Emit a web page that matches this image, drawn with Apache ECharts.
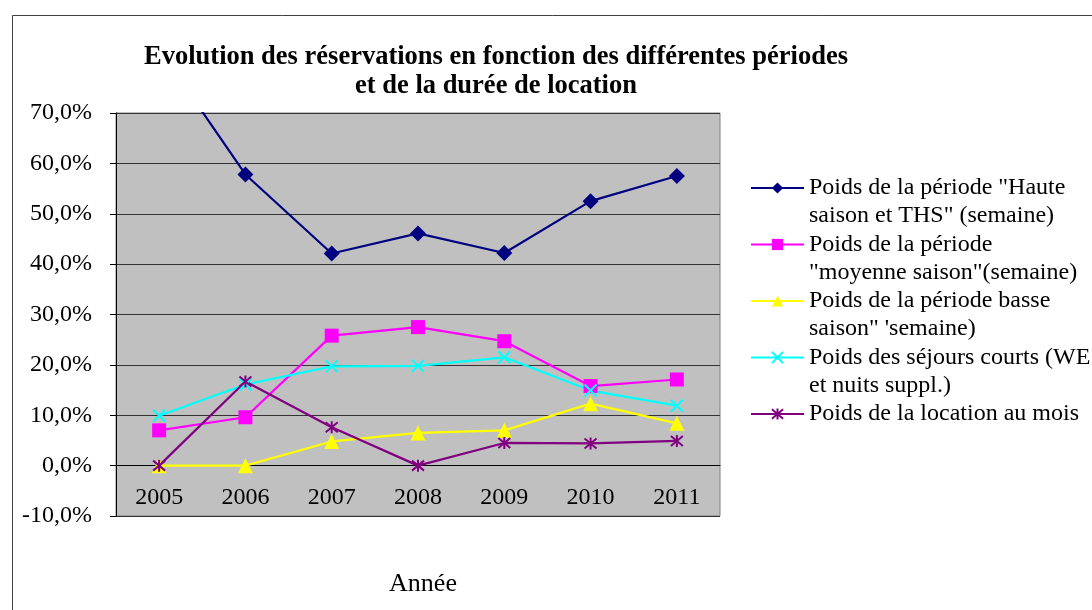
<!DOCTYPE html>
<html>
<head>
<meta charset="utf-8">
<script src="https://cdn.jsdelivr.net/npm/echarts@6/dist/echarts.min.js"></script>
<style>
  html, body { margin: 0; padding: 0; background: #fff; }
  #chart { width: 1092px; height: 610px; }
</style>
</head>
<body>
<div id="chart"></div>
<script>
// data (percent)
const years = ['2005', '2006', '2007', '2008', '2009', '2010', '2011'];
const haute = [82.7, 57.8, 42.1, 46.1, 42.2, 52.5, 57.5];
const moyenne = [7.0, 9.6, 25.8, 27.5, 24.7, 15.8, 17.1];
const basse = [0, 0, 4.8, 6.5, 7.0, 12.3, 8.4];
const courts = [9.9, 16.1, 19.7, 19.8, 21.5, 14.9, 11.9];
const mois = [0, 16.7, 7.6, 0, 4.5, 4.4, 4.9];

const names = [
  'Poids de la période "Haute\nsaison et THS" (semaine)',
  'Poids de la période\n"moyenne saison"(semaine)',
  'Poids de la période basse\nsaison" \'semaine)',
  'Poids des séjours courts (WE\net nuits suppl.)',
  'Poids de la location au mois'
];

const font = 'Liberation Serif';
const chart = echarts.init(document.getElementById('chart'));

const gridTop = 113, gridBottom = 94, yMin = -10, yMax = 70;
const plotH = 610 - gridTop - gridBottom;
// move the category axis up onto the 0 % line
const zeroOffset = -plotH * (0 - yMin) / (yMax - yMin);

function line(name, data, color, symbol, size, stroked) {
  return {
    name: name,
    type: 'line',
    data: data,
    symbol: symbol,
    symbolSize: size,
    showAllSymbol: true,
    lineStyle: { color: color, width: 2.2 },
    itemStyle: stroked
      ? { color: color, borderColor: color, borderWidth: 2 }
      : { color: color },
    emphasis: { disabled: true }
  };
}

chart.setOption({
  animation: false,
  title: {
    text: 'Evolution des réservations en fonction des différentes périodes\net de la durée de location',
    left: 491,
    top: 38,
    textAlign: 'center',
    textStyle: { fontFamily: font, fontSize: 26.5, fontWeight: 'bold', color: '#000', lineHeight: 29 }
  },
  graphic: [{
    type: 'rect',
    shape: { x: 12.5, y: 15.5, width: 1200, height: 700 },
    style: { fill: 'none', stroke: '#404040', lineWidth: 1 },
    silent: true
  }],
  legend: {
    orient: 'vertical',
    left: 745,
    top: 141,
    itemWidth: 53,
    itemHeight: 14,
    itemGap: -27.5,
    // blank first line so the icon sits beside the first text line
    formatter: n => '\n' + n + (n.indexOf('\n') < 0 ? '\n ' : ''),
    textStyle: { fontFamily: font, fontSize: 24, color: '#000', lineHeight: 28 },
    data: names
  },
  grid: {
    left: 116, top: gridTop, right: 372, bottom: gridBottom,
    outerBoundsMode: 'none',
    show: true, backgroundColor: '#c0c0c0', borderColor: '#808080', borderWidth: 1
  },
  xAxis: {
    type: 'category',
    data: years,
    position: 'bottom',
    offset: zeroOffset,
    name: 'Année',
    nameLocation: 'middle',
    nameGap: 106,
    nameTextStyle: { fontFamily: font, fontSize: 26, color: '#000', padding: [0, 0, 0, 10] },
    axisLine: { onZero: false, lineStyle: { color: '#000', width: 1 } },
    axisTick: { length: 7, lineStyle: { color: '#000' } },
    axisLabel: { fontFamily: font, fontSize: 24, color: '#000', margin: 20 }
  },
  yAxis: {
    type: 'value',
    min: yMin,
    max: yMax,
    interval: 10,
    axisLine: { show: true, onZero: false, lineStyle: { color: '#000', width: 1 } },
    axisTick: { show: true, length: 6, lineStyle: { color: '#000' } },
    axisLabel: {
      fontFamily: font, fontSize: 24, color: '#000', margin: 24,
      formatter: v => v.toFixed(1).replace('.', ',') + '%'
    },
    splitLine: { lineStyle: { color: '#333', width: 1 } }
  },
  series: [
    line(names[0], haute, '#000080', 'diamond', 16, false),
    line(names[1], moyenne, '#ff00ff', 'rect', 14, false),
    line(names[2], basse, '#ffff00', 'triangle', 15, false),
    line(names[3], courts, '#00ffff', 'path://M0,0L10,10M10,0L0,10', 12, true),
    line(names[4], mois, '#800080', 'path://M0,0L10,10M10,0L0,10M5,-1L5,11', 12, true)
  ]
});
</script>
</body>
</html>
